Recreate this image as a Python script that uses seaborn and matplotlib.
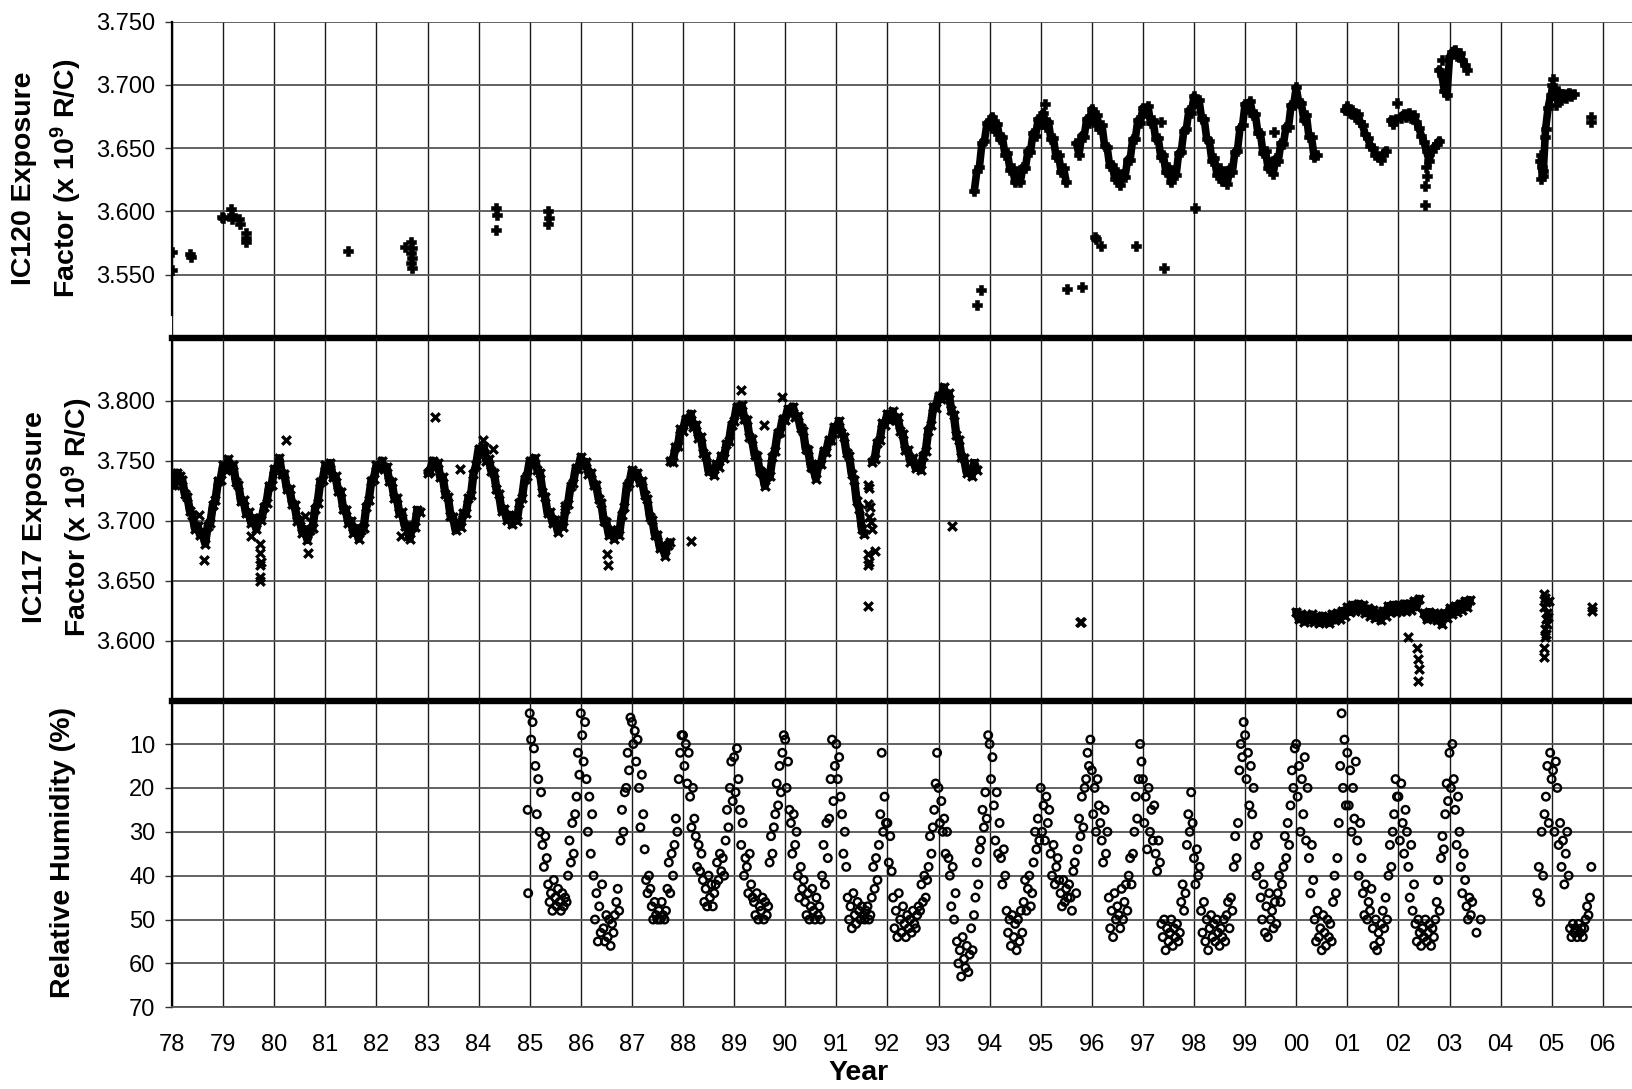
import numpy as np
import pandas as pd
import matplotlib
matplotlib.use('Agg')
import matplotlib.pyplot as plt
from matplotlib.ticker import FormatStrFormatter
import seaborn as sns

sns.set_style('white')
plt.rcParams['font.family'] = ['Liberation Sans', 'DejaVu Sans']
plt.rcParams['mathtext.fontset'] = 'custom'
plt.rcParams['mathtext.rm'] = 'Liberation Sans'
plt.rcParams['mathtext.it'] = 'Liberation Sans:italic'
plt.rcParams['mathtext.bf'] = 'Liberation Sans:bold'

nan = np.nan
STEP = 0.05   # band readings, years (19xx - 1900)

# =============================================================================
# IC120 exposure factor (x 1e9 R/C)
# =============================================================================
ic120_a_start = 93.70
ic120_a = [3.616, 3.632, 3.635, 3.654, 3.656, 3.670, 3.668, 3.675, 3.664, 3.669,
           3.657, 3.659, 3.645, 3.646, 3.633, 3.634, 3.623, 3.629, 3.623, 3.635,
           3.634, 3.648, 3.647, 3.662, 3.660, 3.673, 3.669, 3.678, 3.667, 3.671,
           3.657, 3.658, 3.643, 3.645, 3.631, 3.634, 3.623]
ic120_b_start = 95.70
ic120_b = [3.654, 3.645, 3.660, 3.659, 3.673, 3.670, 3.681, 3.671, 3.676, 3.665,
           3.668, 3.652, 3.651, 3.636, 3.637, 3.626, 3.631, 3.621, 3.630, 3.627,
           3.641, 3.641, 3.657, 3.657, 3.672, 3.670, 3.682, 3.678, 3.683, 3.670,
           3.672, 3.657, 3.658, 3.643, 3.645, 3.631, 3.635, 3.623, 3.632, 3.629,
           3.646, 3.647, 3.664, 3.665, 3.680, 3.678, 3.691, 3.686, 3.688, 3.673,
           3.673, 3.657, 3.656, 3.640, 3.642, 3.629, 3.634, 3.624, 3.631, 3.622,
           3.634, 3.631, 3.647, 3.648, 3.666, 3.668, 3.685, 3.681, 3.687, 3.676,
           3.677, 3.662, 3.662, 3.646, 3.648, 3.634, 3.639, 3.630, 3.642, 3.640,
           3.654, 3.653, 3.667, 3.667, 3.684, 3.684, 3.698, 3.686, 3.686, 3.672,
           3.676, 3.659, 3.659, 3.643, 3.645]
ic120_c_start = 100.95
ic120_c = [3.680, 3.683, 3.678, 3.680, 3.675, 3.677, 3.671, 3.668, 3.661, 3.658,
           3.652, 3.650, 3.645, 3.644, 3.641, 3.645, 3.648, nan, 3.672, 3.669,
           3.673, nan, 3.674, 3.677, 3.675, 3.678, 3.674, 3.676, 3.671, 3.666,
           3.660, 3.655, 3.648, 3.640, 3.648, 3.651, 3.653, 3.656]
ic120_d_start = 102.80
ic120_d = [3.712, 3.708, 3.695, 3.692, 3.722, 3.726, 3.728, 3.723, 3.725, 3.720,
           3.716, 3.712]
ic120_e_start = 104.78
ic120_e = [3.640, 3.628, 3.665, 3.682, 3.692, 3.697, 3.690, 3.695, 3.688, 3.693,
           3.690, 3.694, 3.691, 3.693]
# isolated readings
ic120_pt_year = [78.00, 78.00, 78.35, 78.37, 78.97, 78.99, 79.16, 79.17, 79.18,
                 79.32, 79.33, 79.44, 79.45, 79.44, 81.45, 82.56, 82.68, 82.69,
                 82.68, 82.69, 82.68, 82.69, 84.35, 84.36, 84.35, 85.36, 85.37,
                 85.36, 93.75, 93.83, 95.09, 95.51, 95.80, 96.07, 96.08, 96.18,
                 96.87, 97.35, 97.41, 98.02, 99.57, 101.97, 102.54, 102.55,
                 102.53, 102.52, 102.86, 104.80, 104.81, 104.80, 104.82, 104.87,
                 105.00, 105.02, 105.08, 105.77, 105.77]
ic120_pt_val = [3.568, 3.554, 3.566, 3.564, 3.596, 3.595, 3.602, 3.597, 3.594,
                3.594, 3.590, 3.583, 3.579, 3.576, 3.569, 3.572, 3.576, 3.571,
                3.567, 3.563, 3.559, 3.555, 3.603, 3.597, 3.585, 3.600, 3.595,
                3.590, 3.526, 3.538, 3.685, 3.539, 3.540, 3.580, 3.578, 3.573,
                3.573, 3.671, 3.555, 3.603, 3.663, 3.686, 3.635, 3.628, 3.620,
                3.605, 3.720, 3.645, 3.635, 3.626, 3.632, 3.659, 3.700, 3.705,
                3.684, 3.675, 3.671]

# =============================================================================
# IC117 exposure factor (x 1e9 R/C)
# =============================================================================
ic117_a_start = 78.00
ic117_a = [3.730, 3.730, 3.740, 3.737, 3.734, 3.722, 3.720, 3.708, 3.705, 3.693,
           3.696, 3.688, 3.690, 3.681, 3.696, 3.698, 3.713, 3.717, 3.733, 3.734,
           3.746, 3.742, 3.751, 3.743, 3.746, 3.732, 3.730, 3.716, 3.717, 3.706,
           3.707, 3.698, 3.702, 3.693, 3.702, 3.701, 3.711, 3.715, 3.729, 3.730,
           3.743, 3.743, 3.752, 3.739, 3.739, 3.726, 3.726, 3.714, 3.713, 3.700,
           3.701, 3.690, 3.693, 3.684, 3.692, 3.694, 3.710, 3.715, 3.732, 3.734,
           3.746, 3.744, 3.748, 3.736, 3.737, 3.725, 3.724, 3.710, 3.709, 3.698,
           3.700, 3.690, 3.694, 3.685, 3.692, 3.694, 3.711, 3.717, 3.733, 3.735,
           3.746, 3.744, 3.750, 3.743, 3.745, 3.733, 3.732, 3.719, 3.719, 3.706,
           3.707, 3.696, 3.696, 3.685, 3.695, 3.695, 3.709, 3.707, nan, nan,
           3.740, 3.741, 3.750, 3.745, 3.748, 3.736, 3.736, 3.722, 3.720, 3.704,
           3.703, 3.692, 3.697, 3.695, 3.706, 3.706, 3.719, 3.721, 3.739, 3.746,
           3.760, 3.759, 3.761, 3.750, 3.751, 3.741, 3.740, 3.726, 3.722, 3.708,
           3.710, 3.701, 3.705, 3.697, 3.704, 3.700, 3.715, 3.719, 3.735, 3.737,
           3.750, 3.749, 3.752, 3.742, 3.740, 3.724, 3.720, 3.706, 3.707, 3.698,
           3.701, 3.691, 3.697, 3.695, 3.710, 3.714, 3.729, 3.731, 3.744, 3.743,
           3.753, 3.746, 3.749, 3.739, 3.740, 3.730, 3.730, 3.718, 3.715, 3.700,
           3.699, 3.688, 3.692, 3.685, 3.692, 3.688, 3.705, 3.711, 3.729, 3.731,
           3.742, 3.737, 3.740, 3.732, 3.733, 3.721, 3.718, 3.703, 3.701, 3.688,
           3.688, 3.677, 3.679, 3.671, 3.680, 3.682]
ic117_b_start = 87.75
ic117_b = [3.750, 3.749, 3.761, 3.762, 3.776, 3.775, 3.785, 3.782, 3.789, 3.778,
           3.780, 3.769, 3.770, 3.756, 3.754, 3.741, 3.742, 3.738, 3.747, 3.745,
           3.754, 3.752, 3.764, 3.766, 3.780, 3.783, 3.795, 3.791, 3.796, 3.785,
           3.784, 3.770, 3.768, 3.755, 3.754, 3.741, 3.740, 3.729, 3.737, 3.737,
           3.753, 3.758, 3.773, 3.774, 3.785, 3.784, 3.793, 3.790, 3.795, 3.786,
           3.787, 3.777, 3.775, 3.760, 3.759, 3.745, 3.744, 3.735, 3.747, 3.747,
           3.758, 3.757, 3.767, 3.767, 3.778, 3.776, 3.783, 3.773, 3.770, 3.756,
           3.754, 3.739, 3.734, 3.716, 3.710, 3.693, 3.689]
ic117_c_start = 91.70
ic117_c = [3.749, 3.751, 3.765, 3.767, 3.781, 3.780, 3.789, 3.784, 3.791, 3.784,
           3.786, 3.775, 3.772, 3.759, 3.759, 3.749, 3.752, 3.744, 3.746, 3.742,
           3.754, 3.758, 3.775, 3.780, 3.795, 3.794, 3.804, 3.801, 3.811, 3.804,
           3.806, 3.792, 3.788, 3.771, 3.767, 3.753, 3.752, 3.740, 3.741, 3.737,
           3.748, 3.742]
ic117_d_start = 100.00
ic117_d = [3.624, 3.618, 3.622, 3.616, 3.621, 3.617, 3.622, 3.616, 3.620, 3.615,
           3.621, 3.616, 3.620, 3.615, 3.622, 3.617, 3.623, 3.618, 3.625, 3.621,
           3.628, 3.624, 3.630, 3.625, 3.631, 3.626, 3.630, 3.623, 3.627, 3.621,
           3.626, 3.619, 3.623, 3.617, 3.625, 3.621, 3.629, 3.624, 3.630, 3.624,
           3.630, 3.625, 3.631, 3.625, 3.631, 3.626, 3.633, 3.628, 3.635, nan,
           3.623, 3.618, 3.624, 3.619, 3.623, 3.617, 3.622, 3.614, 3.623, 3.619,
           3.627, 3.622, 3.629, 3.624, 3.631, 3.626, 3.633, 3.628, 3.634]
ic117_pt_year = [78.52, 78.63, 79.55, 79.73, 79.72, 79.74, 79.73, 79.72, 79.73,
                 80.23, 80.61, 80.67, 82.48, 83.15, 83.64, 84.08, 84.29, 85.69,
                 86.52, 86.53, 88.16, 89.14, 89.59, 89.94, 91.62, 91.64, 91.62,
                 91.66, 91.64, 91.68, 91.70, 91.62, 91.64, 91.62, 91.75, 91.62,
                 93.27, 95.77, 95.79, 102.18, 102.37, 102.39, 102.41, 102.38,
                 104.84, 104.86, 104.88, 104.85, 104.90, 104.88, 104.91, 104.87,
                 104.89, 104.86, 104.85, 104.84, 104.95, 104.92, 105.79, 105.79]
ic117_pt_val = [3.705, 3.667, 3.687, 3.681, 3.673, 3.666, 3.663, 3.653, 3.650,
                3.767, 3.704, 3.673, 3.687, 3.786, 3.743, 3.767, 3.760, 3.712,
                3.672, 3.663, 3.683, 3.809, 3.780, 3.803, 3.730, 3.727, 3.714,
                3.711, 3.703, 3.699, 3.693, 3.672, 3.666, 3.663, 3.675, 3.629,
                3.696, 3.616, 3.616, 3.603, 3.594, 3.585, 3.577, 3.567,
                3.639, 3.636, 3.632, 3.628, 3.623, 3.618, 3.614, 3.610,
                3.606, 3.603, 3.594, 3.587, 3.633, 3.620, 3.628, 3.625]

# =============================================================================
# Relative humidity (%), ~10 day readings, one list per year
# =============================================================================
rh85 = [3, 9, 5, 11, 15, 26, 18, 30, 21, 33, 38, 31, 36, 42, 46, 44, 48, 41, 45, 47,
        43, 46, 48, 44, 47, 45, 46, 40, 32, 37, 28, 35, 26, 22, 12, 17]
rh86 = [3, 8, 14, 5, 18, 30, 22, 35, 26, 40, 50, 44, 55, 47, 53, 42, 52, 55, 49, 54,
        50, 56, 51, 53, 49, 46, 43, 48, 32, 25, 30, 21, 20, 12, 16, 4]
rh87 = [5, 10, 7, 14, 9, 20, 29, 17, 26, 34, 41, 44, 40, 43, 47, 50, 46, 49, 50, 48,
        50, 46, 49, 50, 48, 43, 37, 44, 35, 40, 33, 27, 30, 18, 12, 8]
rh88 = [8, 15, 10, 19, 12, 22, 29, 20, 27, 31, 38, 33, 39, 35, 41, 46, 43, 47, 40, 45,
        42, 47, 44, 42, 37, 41, 35, 39, 36, 40, 32, 25, 29, 20, 14, 23]
rh89 = [13, 21, 11, 18, 25, 33, 28, 40, 36, 38, 44, 35, 42, 45, 46, 49, 44, 50, 47, 48,
        45, 50, 46, 49, 47, 37, 31, 35, 29, 26, 19, 24, 15, 21, 12, 8]
rh90 = [9, 20, 14, 25, 28, 35, 26, 33, 30, 40, 45, 38, 43, 41, 46, 49, 44, 50, 47, 43,
        48, 50, 45, 49, 47, 50, 40, 33, 42, 28, 36, 27, 18, 9, 23, 15]
rh91 = [10, 18, 13, 22, 26, 35, 30, 38, 45, 50, 47, 52, 44, 49, 51, 46, 48, 50, 47, 49,
        50, 48, 47, 50, 49, 45, 38, 43, 36, 41, 33, 26, 12, 30, 22, 28]
rh92 = [28, 37, 31, 39, 45, 52, 48, 54, 44, 50, 53, 47, 51, 54, 49, 52, 50, 53, 48, 51,
        52, 49, 47, 48, 42, 46, 40, 45, 41, 38, 31, 35, 29, 25, 19, 12]
rh93 = [20, 28, 23, 30, 27, 35, 30, 36, 40, 47, 38, 50, 44, 55, 60, 57, 63, 54, 59, 61,
        56, 62, 58, 52, 57, 49, 45, 37, 42, 34, 32, 25, 29, 21, 27, 8]
rh94 = [10, 18, 13, 24, 32, 21, 35, 28, 36, 42, 34, 40, 48, 53, 50, 56, 49, 54, 51, 57,
        50, 55, 48, 53, 46, 41, 48, 43, 40, 47, 44, 37, 30, 34, 27, 32]
rh95 = [20, 30, 24, 32, 22, 28, 25, 35, 40, 33, 42, 38, 36, 41, 44, 47, 41, 46, 43, 45,
        42, 45, 48, 39, 37, 44, 34, 27, 31, 22, 29, 20, 18, 12, 15, 9]
rh96 = [16, 26, 20, 30, 18, 24, 28, 32, 37, 25, 35, 30, 45, 52, 48, 54, 44, 50, 47, 49,
        52, 43, 50, 46, 42, 48, 40, 36, 42, 35, 30, 22, 27, 18, 10, 14]
rh97 = [18, 28, 22, 34, 20, 30, 25, 32, 24, 35, 39, 32, 37, 51, 54, 50, 57, 52, 55, 53,
        50, 56, 52, 54, 51, 55, 53, 46, 42, 48, 44, 33, 26, 30, 21, 28]
rh98 = [36, 42, 34, 40, 38, 48, 53, 46, 55, 50, 57, 52, 49, 54, 51, 55, 50, 53, 56, 52,
        54, 50, 55, 49, 46, 52, 45, 48, 38, 31, 36, 28, 16, 10, 13, 5]
rh99 = [8, 18, 12, 24, 15, 26, 20, 33, 40, 31, 38, 45, 50, 42, 53, 47, 54, 44, 50, 48,
        52, 46, 51, 44, 40, 46, 42, 38, 31, 36, 28, 33, 24, 16, 20, 11]
rh00 = [10, 22, 15, 30, 18, 26, 13, 32, 20, 36, 44, 33, 41, 50, 55, 48, 54, 52, 57, 49,
        53, 56, 50, 54, 51, 55, 46, 40, 44, 36, 28, 15, 3, 20, 9, 24]
rh01 = [12, 24, 16, 30, 20, 27, 14, 32, 40, 28, 36, 44, 49, 42, 50, 46, 48, 43, 52, 56,
        50, 57, 53, 55, 51, 48, 52, 45, 50, 40, 33, 38, 30, 26, 18, 22]
rh02 = [22, 32, 19, 28, 35, 25, 30, 38, 45, 33, 48, 42, 51, 55, 50, 53, 56, 52, 54, 50,
        55, 53, 51, 56, 52, 54, 50, 46, 41, 48, 36, 31, 34, 26, 19, 23]
rh03 = [12, 20, 10, 18, 25, 33, 22, 30, 38, 44, 35, 41, 47, 50, 45, 49, 46, nan, nan,
        53, nan, nan, 50]
rh05 = [44, 38, 46, 30, 40, 26, 22, 15, 28, 12, 18, 16, 30, 14, 20, 33, 28, 38, 32, 42,
        35, 30, 40, 52, 54, 51, 53, 52, 54, 51, 53, 52, 54, 52, 50, 47, 49, 45, 38]
rh_starts = [85, 86, 87, 88, 89, 90, 91, 92, 93, 94, 95, 96, 97, 98, 99, 100, 101,
             102, 103, 104.72]
rh_lists = [rh85, rh86, rh87, rh88, rh89, rh90, rh91, rh92, rh93, rh94, rh95, rh96,
            rh97, rh98, rh99, rh00, rh01, rh02, rh03, rh05]
RH_STEP = 1 / 36
rh_pt_year = [84.96, 84.97]
rh_pt_val = [25, 44]


def series(start, step, values, name=''):
    values = np.asarray(values, dtype=float)
    t = start + step * np.arange(len(values))
    # a new run starts after every gap, so lines are not drawn across gaps
    run = np.cumsum(np.isnan(values))
    df = pd.DataFrame({'year': t, 'value': values,
                       'run': [f'{name}{r}' for r in run]})
    return df.dropna()


ic120_runs = pd.concat([series(ic120_a_start, STEP, ic120_a, 'a'),
                        series(ic120_b_start, STEP, ic120_b, 'b'),
                        series(ic120_c_start, STEP, ic120_c, 'c'),
                        series(ic120_d_start, STEP, ic120_d, 'd'),
                        series(ic120_e_start, STEP, ic120_e, 'e')])
ic120 = pd.concat([ic120_runs,
                   pd.DataFrame({'year': ic120_pt_year, 'value': ic120_pt_val})])
ic117_runs = pd.concat([series(ic117_a_start, STEP, ic117_a, 'a'),
                        series(ic117_b_start, STEP, ic117_b, 'b'),
                        series(ic117_c_start, STEP, ic117_c, 'c'),
                        series(ic117_d_start, STEP, ic117_d, 'd')])
ic117 = pd.concat([ic117_runs,
                   pd.DataFrame({'year': ic117_pt_year, 'value': ic117_pt_val})])
rh = pd.concat([series(s, RH_STEP, v) for s, v in zip(rh_starts, rh_lists)]
               + [pd.DataFrame({'year': rh_pt_year, 'value': rh_pt_val})])

# =============================================================================
# Figure
# =============================================================================
W_PX, H_PX = 1633, 1089
fig = plt.figure(figsize=(W_PX / 100, H_PX / 100), dpi=100)
left = 172 / W_PX
ax1 = fig.add_axes([left, 1 - 338 / H_PX, 1 - left, (338 - 21.7) / H_PX])
ax2 = fig.add_axes([left, 1 - 701 / H_PX, 1 - left, (701 - 338) / H_PX])
ax3 = fig.add_axes([left, 1 - 1007.3 / H_PX, 1 - left, (1007.3 - 701) / H_PX])

# dense daily readings merge into a solid band
sns.lineplot(data=ic120_runs, x='year', y='value', units='run', estimator=None,
             sort=False, ax=ax1, color='black', linewidth=5.5, legend=False,
             zorder=3)
sns.scatterplot(data=ic120, x='year', y='value', ax=ax1, marker='P', s=55,
                color='black', edgecolor='black', linewidth=0.4, legend=False,
                zorder=3)
sns.lineplot(data=ic117_runs, x='year', y='value', units='run', estimator=None,
             sort=False, ax=ax2, color='black', linewidth=6, legend=False,
             zorder=3)
sns.scatterplot(data=ic117, x='year', y='value', ax=ax2, marker='x', s=38,
                color='black', linewidth=2.4, legend=False, zorder=3)
sns.scatterplot(data=rh, x='year', y='value', ax=ax3, marker='o', s=30,
                color='black', facecolor='none', edgecolor='black',
                linewidth=1.7, legend=False, zorder=3)

xmax = 78 + (W_PX - 172) / 51.1
years = np.arange(78, 107)
for ax in (ax1, ax2, ax3):
    ax.set_xlim(78, xmax)
    ax.set_xticks(years)
    ax.set_axisbelow(True)
    ax.grid(True, axis='x', color='#1a1a1a', linewidth=1.0)
    ax.grid(True, axis='y', color='#555555', linewidth=1.3)
    ax.set_xlabel('')
    ax.set_ylabel('')
    ax.spines['top'].set_visible(False)
    ax.spines['right'].set_visible(False)
    ax.spines['left'].set_color('black')
    ax.spines['left'].set_linewidth(1.6)
    ax.tick_params(axis='y', direction='out', length=5, width=1, color='#333333',
                   labelsize=17, pad=7, left=True, labelcolor='black')
    ax.patch.set_alpha(0)

for ax in (ax1, ax2):
    ax.spines['bottom'].set_color('black')
    ax.spines['bottom'].set_linewidth(4.6)
    ax.spines['bottom'].set_zorder(4)
    ax.tick_params(axis='x', length=0, labelbottom=False)

ax1.set_ylim(3.5, 3.75)
ax1.set_yticks([3.55, 3.60, 3.65, 3.70, 3.75])
ax1.yaxis.set_major_formatter(FormatStrFormatter('%.3f'))
ax1.spines['left'].set_bounds(3.518, 3.75)

ax2.set_ylim(3.55, 3.852)
ax2.set_yticks([3.60, 3.65, 3.70, 3.75, 3.80])
ax2.yaxis.set_major_formatter(FormatStrFormatter('%.3f'))

ax3.set_ylim(70, 0.2)
ax3.set_yticks([10, 20, 30, 40, 50, 60, 70])
ax3.spines['bottom'].set_color('#555555')
ax3.spines['bottom'].set_linewidth(1.3)
ax3.set_xticks(years)
ax3.set_xticklabels([f'{int(y) % 100:02d}' for y in years])
ax3.tick_params(axis='x', length=0, labelsize=17, pad=19, labelcolor='black')

lab = dict(rotation=90, ha='center', va='center', fontsize=20.5,
           fontweight='bold', color='black')
fig.text(24 / W_PX, 1 - 178 / H_PX, 'IC120 Exposure', **lab)
fig.text(66 / W_PX, 1 - 178 / H_PX, r'Factor (x 10$^{\mathbf{9}}$ R/C)', **lab)
fig.text(35 / W_PX, 1 - 517 / H_PX, 'IC117 Exposure', **lab)
fig.text(77 / W_PX, 1 - 517 / H_PX, r'Factor (x 10$^{\mathbf{9}}$ R/C)', **lab)
fig.text(63 / W_PX, 1 - 852 / H_PX, 'Relative Humidity (%)', **lab)
fig.text(859 / W_PX, 1 - 1073 / H_PX, 'Year', ha='center', va='center',
         fontsize=20.5, fontweight='bold', color='black')

fig.savefig('out.png', dpi=100)
